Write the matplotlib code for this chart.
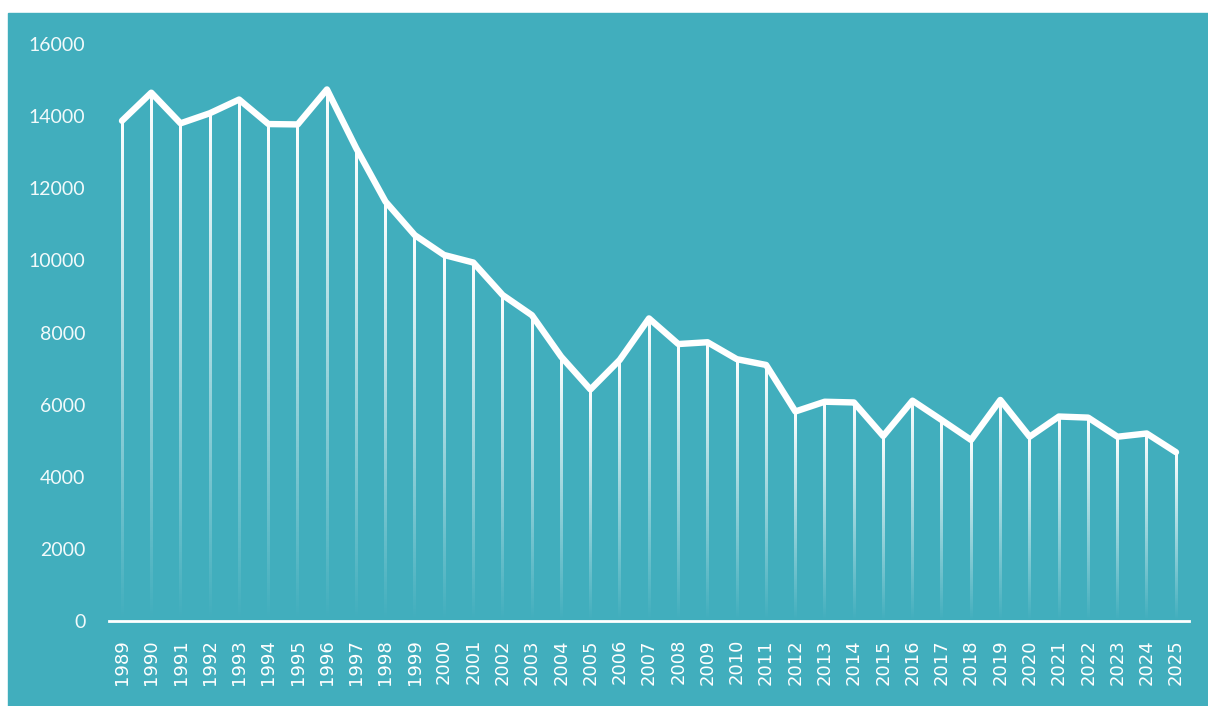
import numpy as np
import matplotlib.pyplot as plt
from matplotlib.patches import Rectangle

years = list(range(1989, 2026))
values = [13870, 14650, 13800, 14080, 14460, 13780, 13770, 14740, 13110, 11630,
          10700, 10150, 9940, 9040, 8480, 7330, 6420, 7240, 8390, 7680,
          7730, 7260, 7100, 5810, 6080, 6060, 5130, 6110, 5570, 5020,
          6130, 5110, 5670, 5640, 5110, 5200, 4680]
yticks = [0, 2000, 4000, 6000, 8000, 10000, 12000, 14000, 16000]

teal = '#41aebd'

fig = plt.figure(figsize=(12.08, 7.06), dpi=100, facecolor='white')
# teal panel behind the chart
fig.patches.append(Rectangle((8 / 1208, 0), 1, (706 - 13) / 706,
                             transform=fig.transFigure, color=teal, zorder=-10))

ax = fig.add_axes([109 / 1208, 1 - 621 / 706, (1189 - 109) / 1208, (621 - 44) / 706])
ax.set_facecolor('none')

# vertical drop lines, white at the top fading out towards the baseline
grad = np.zeros((200, 1, 4))
grad[..., :3] = 1.0
grad[:, 0, 3] = np.linspace(1, 0, 200)
half_w = 0.045
for x, v in zip(years, values):
    ax.imshow(grad, extent=(x - half_w, x + half_w, 0, v), aspect='auto',
              interpolation='bilinear', origin='upper', zorder=2)

ax.plot(years, values, color='white', linewidth=4.6, solid_joinstyle='round',
        solid_capstyle='round', zorder=3)

ax.set_xlim(1988.556, 2025.444)
ax.set_ylim(0, 16000)
ax.set_xticks(years)
ax.set_xticklabels([str(y) for y in years], rotation=90, fontsize=13,
                   color='white', family='DejaVu Sans')
ax.set_yticks(yticks)
ax.set_yticklabels([str(t) for t in yticks], fontsize=14, color='#f2fafb',
                   family='Lato')
ax.tick_params(axis='x', length=0, pad=13)
ax.tick_params(axis='y', length=0, pad=17)

for s in ['top', 'right', 'left']:
    ax.spines[s].set_visible(False)
ax.spines['bottom'].set_color('white')
ax.spines['bottom'].set_linewidth(2)
ax.spines['bottom'].set_zorder(4)

fig.savefig('out.png', dpi=100, facecolor='white')
